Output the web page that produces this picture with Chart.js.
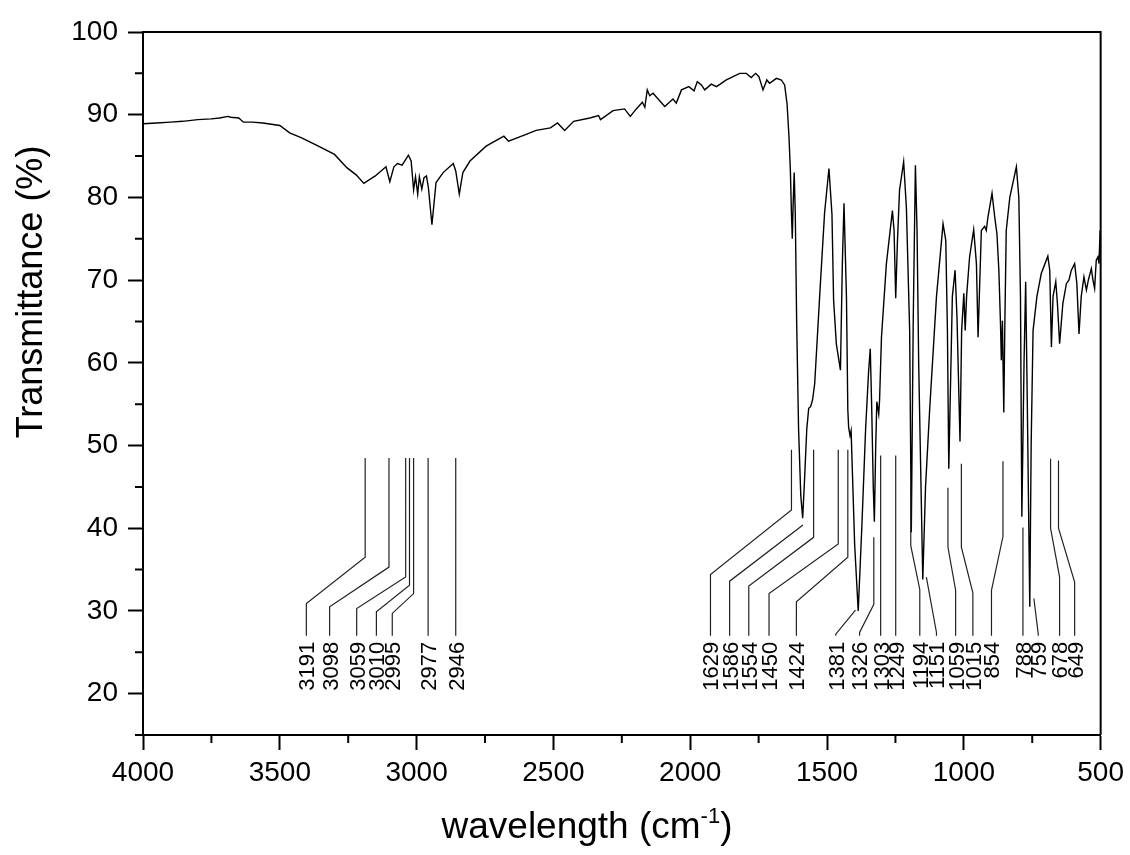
<!DOCTYPE html>
<html>
<head>
<meta charset="utf-8">
<script src="https://cdn.jsdelivr.net/npm/chart.js@4.4.1/dist/chart.umd.min.js"></script>
<style>
  html, body { margin: 0; padding: 0; background: #fff; }
  #wrap { width: 1130px; height: 855px; }
</style>
</head>
<body>
<div id="wrap"><canvas id="chart" width="1130" height="855"></canvas></div>
<script>
// spectrum (wavenumber in cm-1, transmittance in %)
const wavenumbers = [
  4000, 3950, 3900, 3855, 3800, 3751, 3720, 3690, 3679, 3650, 3633, 3600, 3562, 3500, 3464, 3420, 3359, 3300, 3255, 3220, 3193,
  3151, 3112, 3098, 3083, 3070, 3053, 3030, 3020, 3011, 3004, 2996, 2990, 2981, 2973, 2964, 2957, 2944, 2929, 2903, 2866,
  2857, 2844, 2831, 2805, 2746, 2681, 2664, 2602, 2563, 2511, 2485, 2459, 2426, 2367, 2335, 2328,
  2282, 2240, 2219, 2197, 2175, 2166, 2157, 2148, 2136, 2093, 2063, 2051, 2032, 2005, 1986, 1974, 1959, 1947, 1923, 1904,
  1868, 1819, 1795, 1777, 1761, 1749, 1734, 1720, 1710, 1685, 1667, 1655, 1646, 1639, 1634, 1630, 1627, 1624, 1620, 1616,
  1611, 1604, 1596, 1589, 1582, 1574, 1567, 1560, 1553, 1545, 1527, 1509, 1493, 1482, 1476, 1466, 1451, 1444, 1438, 1429,
  1424, 1421, 1416, 1412, 1399, 1386, 1373, 1359, 1348, 1342, 1337, 1331, 1327, 1322, 1318, 1311, 1308, 1301, 1283, 1261,
  1255, 1249, 1243, 1235, 1220, 1210, 1198, 1192, 1185, 1177, 1171, 1165, 1150, 1140, 1125, 1100, 1076, 1066, 1060, 1055,
  1042, 1032, 1025, 1014, 1008, 1000, 995, 990, 979, 964, 954, 948, 936, 924, 918, 912, 897, 887, 879, 872, 866, 863, 859,
  854, 850, 845, 832, 808, 799, 793, 788, 780, 774, 768, 759, 754, 747, 733, 717, 693, 686, 680, 674, 664, 658, 650, 638,
  625, 616, 607, 595, 587, 579, 571, 561, 552, 545, 534, 528, 522, 516, 510, 506, 502
];
const transmittance = [
  88.9, 89.0, 89.1, 89.2, 89.4, 89.5, 89.6, 89.8, 89.7, 89.6, 89.1, 89.1, 89.0, 88.7, 87.8, 87.2, 86.2, 85.2, 83.6, 82.7, 81.7,
  82.6, 83.7, 81.9, 83.7, 84.1, 83.9, 85.1, 84.4, 80.9, 82.5, 80.4, 82.5, 81.0, 82.4, 82.6, 81.2, 76.7, 81.8, 83.0, 84.1,
  83.2, 80.4, 83.0, 84.4, 86.2, 87.4, 86.8, 87.6, 88.1, 88.4, 89.0, 88.1, 89.2, 89.6, 89.9, 89.4,
  90.5, 90.7, 89.8, 90.7, 91.5, 90.9, 93.0, 92.3, 92.6, 91.0, 91.9, 91.4, 93.0, 93.4, 92.9, 94.0, 93.6, 93.0, 93.7, 93.4,
  94.2, 95.0, 95.0, 94.5, 95.0, 94.6, 93.0, 94.2, 93.8, 94.4, 94.2, 93.6, 91.3, 87.3, 83.3, 78.0, 75.0, 79.0, 83.0, 78.0,
  65.0, 52.0, 44.0, 41.2, 46.0, 52.0, 54.5, 54.7, 55.5, 57.5, 68.0, 78.1, 83.5, 78.0, 67.6, 62.3, 59.1, 72.0, 79.3, 68.0,
  54.3, 52.2, 51.2, 51.8, 38.0, 30.0, 40.0, 52.0, 59.0, 61.7, 55.0, 45.0, 40.8, 50.0, 55.3, 53.8, 55.5, 63.1, 72.0, 78.4,
  76.0, 67.8, 74.4, 80.9, 84.3, 78.8, 63.9, 39.5, 65.0, 83.9, 76.0, 59.9, 33.8, 45.0, 54.3, 68.0, 76.8, 74.8, 63.9, 47.2,
  68.0, 71.2, 65.5, 50.5, 63.9, 68.4, 63.9, 68.0, 72.8, 76.1, 72.0, 63.1, 76.0, 76.5, 76.0, 77.6, 80.5, 77.6, 75.6, 71.2, 64.7, 60.3, 65.1,
  54.0, 65.0, 76.0, 80.0, 83.7, 80.0, 68.0, 41.4, 60.0, 69.8, 55.0, 30.5, 50.0, 63.9, 68.0, 70.8, 72.9, 71.2, 61.9, 68.0, 69.8, 67.2, 62.3, 67.2,
  69.6, 70.0, 71.2, 72.0, 69.6, 63.5, 68.0, 70.4, 68.8, 70.0, 71.4, 70.0, 69.0, 72.4, 72.8, 72.0, 76.0
];

const xTicks = [4000, 3500, 3000, 2500, 2000, 1500, 1000, 500];
const xMinorTicks = [3750, 3250, 2750, 2250, 1750, 1250, 750];
const yTicks = [20, 30, 40, 50, 60, 70, 80, 90, 100];
const yMinorTicks = [15, 25, 35, 45, 55, 65, 75, 85, 95];

// peak labels and the wavenumber their leader line starts from
const peakLabels = ['3191', '3098', '3059', '3010', '2995', '2977', '2946', '1629', '1586', '1554', '1450', '1424', '1381',
  '1326', '1303', '1249', '1194', '1151', '1059', '1015', '854', '788', '759', '678', '649'];
const peakPositions = [3188, 3101, 3040, 3026, 3011, 2958, 2857, 1630, 1588, 1549, 1459, 1424, 1396,
  1329, 1304, 1249, 1194, 1137, 1058, 1009, 857, 784, 744, 683, 654];

// leader layout in axis units: [top %, first bend %, label wavenumber, second bend %]
const leaderLayout = [
  [48.5, 36.5, 3403, 30.9], [48.5, 35.3, 3318, 30.5], [48.5, 34.1, 3219, 30.3], [48.5, 33.1, 3147, 29.9],
  [48.5, 32.1, 3089, 29.7], [48.5, 30, 2958, 29], [48.5, 30, 2857, 29],
  [49.5, 42.2, 1926, 34.4], [40.4, 40.4, 1856, 33.6], [49.5, 38.9, 1786, 33.0], [49.5, 38.1, 1712, 32.1],
  [49.5, 36.5, 1612, 31.1], [30.1, 30.1, 1468, 27.2], [38.9, 30.8, 1381, 27.4], [48.8, 30, 1304, 29],
  [48.8, 30, 1249, 29], [45.2, 37.9, 1161, 32.6], [34.1, 34.1, 1100, 27.4], [44.9, 37.7, 1030, 32.5],
  [47.8, 37.7, 967, 32.2], [48.1, 39.0, 899, 32.5], [40.1, 30, 784, 29], [31.5, 31.5, 728, 27.2],
  [48.4, 40.0, 650, 34.1], [48.2, 40.0, 595, 33.5]
];
const leaderEnd = 27.0;

const FONT = '"Liberation Sans", Arial, Helvetica, sans-serif';

const decorations = {
  id: 'decorations',
  afterDraw(chart) {
    const { ctx, chartArea: a, scales: { x, y } } = chart;
    ctx.save();

    // frame top and right
    ctx.strokeStyle = '#000';
    ctx.lineWidth = 2;
    ctx.beginPath();
    ctx.moveTo(a.left - 1, a.top);
    ctx.lineTo(a.right, a.top);
    ctx.lineTo(a.right, a.bottom);
    ctx.stroke();

    // minor ticks
    ctx.beginPath();
    xMinorTicks.forEach(v => {
      const px = x.getPixelForValue(v);
      ctx.moveTo(px, a.bottom);
      ctx.lineTo(px, a.bottom + 8);
    });
    yMinorTicks.forEach(v => {
      const py = y.getPixelForValue(v);
      ctx.moveTo(a.left, py);
      ctx.lineTo(a.left - 8, py);
    });
    ctx.stroke();

    // peak leaders
    ctx.strokeStyle = '#222';
    ctx.lineWidth = 1.2;
    ctx.beginPath();
    peakPositions.forEach((wn, i) => {
      const [top, bend1, labelWn, bend2] = leaderLayout[i];
      const x0 = x.getPixelForValue(wn);
      const x1 = x.getPixelForValue(labelWn);
      ctx.moveTo(x0, y.getPixelForValue(top));
      ctx.lineTo(x0, y.getPixelForValue(bend1));
      ctx.lineTo(x1, y.getPixelForValue(bend2));
      ctx.lineTo(x1, y.getPixelForValue(leaderEnd));
    });
    ctx.stroke();

    // peak labels
    ctx.fillStyle = '#000';
    ctx.font = `22px ${FONT}`;
    ctx.textAlign = 'right';
    ctx.textBaseline = 'alphabetic';
    const labelTop = y.getPixelForValue(leaderEnd) + 6;
    peakLabels.forEach((t, i) => {
      const px = x.getPixelForValue(leaderLayout[i][2]);
      ctx.save();
      ctx.translate(px + 7.9, labelTop);
      ctx.rotate(-Math.PI / 2);
      ctx.fillText(t, 0, 0);
      ctx.restore();
    });

    // y axis title
    ctx.font = `36px ${FONT}`;
    ctx.textAlign = 'center';
    ctx.save();
    ctx.translate(a.left - 101, 292);
    ctx.rotate(-Math.PI / 2);
    ctx.fillText('Transmittance (%)', 0, 0);
    ctx.restore();

    // x axis title with superscript
    const base = 'wavelength (cm';
    const sup = '-1';
    const tail = ')';
    ctx.font = `37px ${FONT}`;
    const wBase = ctx.measureText(base).width;
    const wTail = ctx.measureText(tail).width;
    ctx.font = `22px ${FONT}`;
    const wSup = ctx.measureText(sup).width;
    const total = wBase + wSup + wTail;
    let tx = 587 - total / 2;
    const ty = 838;
    ctx.textAlign = 'left';
    ctx.font = `37px ${FONT}`;
    ctx.fillText(base, tx, ty);
    tx += wBase;
    ctx.font = `22px ${FONT}`;
    ctx.fillText(sup, tx, ty - 15);
    tx += wSup;
    ctx.font = `37px ${FONT}`;
    ctx.fillText(tail, tx, ty);

    ctx.restore();
  }
};

const points = wavenumbers.map((wn, i) => ({ x: wn, y: transmittance[i] }));

new Chart(document.getElementById('chart'), {
  type: 'line',
  data: {
    datasets: [{
      data: points,
      borderColor: '#000',
      borderWidth: 1.4,
      pointRadius: 0,
      tension: 0,
      fill: false,
    }],
  },
  options: {
    responsive: false,
    animation: false,
    devicePixelRatio: 1,
    layout: { padding: { top: 32, right: 29, left: 0, bottom: 0 } },
    plugins: {
      legend: { display: false },
      tooltip: { enabled: false },
    },
    scales: {
      x: {
        type: 'linear',
        reverse: true,
        min: 500,
        max: 4000,
        afterFit: s => { s.height = 120; },
        afterBuildTicks: s => { s.ticks = xTicks.map(v => ({ value: v })); },
        border: { display: true, color: '#000', width: 2 },
        grid: { display: true, drawOnChartArea: false, drawTicks: true, tickLength: 15, tickWidth: 2, tickColor: '#000' },
        ticks: {
          color: '#000', font: { family: FONT, size: 28 }, padding: 6, maxRotation: 0, autoSkip: false,
          callback: v => String(v),
        },
      },
      y: {
        min: 15,
        max: 100,
        afterFit: s => { s.width = 143; },
        afterBuildTicks: s => { s.ticks = yTicks.map(v => ({ value: v })); },
        border: { display: true, color: '#000', width: 2 },
        grid: { display: true, drawOnChartArea: false, drawTicks: true, tickLength: 15, tickWidth: 2, tickColor: '#000' },
        ticks: { color: '#000', font: { family: FONT, size: 28 }, padding: 10, autoSkip: false, callback: v => String(v) },
      },
    },
  },
  plugins: [decorations],
});
</script>
</body>
</html>
